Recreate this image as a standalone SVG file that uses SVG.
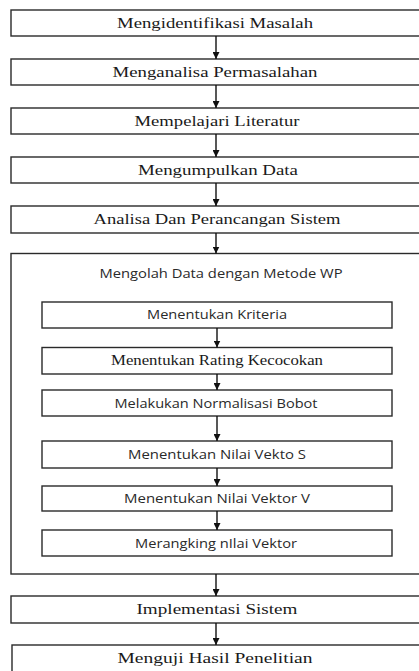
<svg xmlns="http://www.w3.org/2000/svg" width="419" height="671" viewBox="0 0 419 671">
<style>
.box{fill:#fff;stroke:#2a2a2a;stroke-width:1.4}
.serif{font-family:'Liberation Serif','Times New Roman',serif;font-size:14px;fill:#1a1a1a;text-anchor:middle}
.sans{font-family:'Open Sans','Liberation Sans',sans-serif;font-size:12.5px;fill:#2a2a2a;text-anchor:middle}
.arr{stroke:#111;stroke-width:1.4;fill:none;marker-end:url(#ah)}
</style>
<defs>
<marker id="ah" markerWidth="8" markerHeight="7" refX="7" refY="3.5" orient="auto" markerUnits="userSpaceOnUse">
<path d="M0,0 L7,3.5 L0,7 z" fill="#111"/>
</marker>
</defs>
<rect width="419" height="671" fill="#fff"/>
<g id="n1"><rect class="box" x="11" y="10" width="420" height="26"/><text class="serif" x="215" y="27.5" textLength="196" lengthAdjust="spacingAndGlyphs">Mengidentifikasi Masalah</text></g>
<g id="n2"><rect class="box" x="11" y="59" width="420" height="26"/><text class="serif" x="215" y="76.5" textLength="205" lengthAdjust="spacingAndGlyphs">Menganalisa Permasalahan</text></g>
<g id="n3"><rect class="box" x="11" y="108" width="420" height="26"/><text class="serif" x="217" y="125.5" textLength="165" lengthAdjust="spacingAndGlyphs">Mempelajari Literatur</text></g>
<g id="n4"><rect class="box" x="11" y="157" width="420" height="26"/><text class="serif" x="218" y="174.5" textLength="160" lengthAdjust="spacingAndGlyphs">Mengumpulkan Data</text></g>
<g id="n5"><rect class="box" x="11" y="206" width="420" height="27"/><text class="serif" x="217" y="224" textLength="247" lengthAdjust="spacingAndGlyphs">Analisa Dan Perancangan Sistem</text></g>
<g id="wp"><rect class="box" x="11" y="253.5" width="420" height="320.5"/><text class="sans" x="221" y="277.5" textLength="243" lengthAdjust="spacingAndGlyphs">Mengolah Data dengan Metode WP</text></g>
<g id="s1"><rect class="box" x="42" y="302" width="350" height="26"/><text class="sans" x="217" y="319" textLength="140" lengthAdjust="spacingAndGlyphs">Menentukan Kriteria</text></g>
<g id="s2"><rect class="box" x="42" y="347.5" width="350" height="26.5"/><text class="serif" x="217" y="365" textLength="212" lengthAdjust="spacingAndGlyphs">Menentukan Rating Kecocokan</text></g>
<g id="s3"><rect class="box" x="42" y="390" width="350" height="26"/><text class="sans" x="216" y="407.5" textLength="203" lengthAdjust="spacingAndGlyphs">Melakukan Normalisasi Bobot</text></g>
<g id="s4"><rect class="box" x="42" y="441" width="350" height="27"/><text class="sans" x="217" y="459" textLength="178" lengthAdjust="spacingAndGlyphs">Menentukan Nilai Vekto S</text></g>
<g id="s5"><rect class="box" x="42" y="486" width="350" height="25"/><text class="sans" x="217" y="503" textLength="186" lengthAdjust="spacingAndGlyphs">Menentukan Nilai Vektor V</text></g>
<g id="s6"><rect class="box" x="42" y="530" width="350" height="26"/><text class="sans" x="216" y="547.5" textLength="162" lengthAdjust="spacingAndGlyphs">Merangking nIlai Vektor</text></g>
<g id="n6"><rect class="box" x="11" y="596" width="420" height="27"/><text class="serif" x="217" y="614" textLength="161" lengthAdjust="spacingAndGlyphs">Implementasi Sistem</text></g>
<g id="n7"><rect class="box" x="12" y="645" width="420" height="40"/><text class="serif" x="215" y="663" textLength="195" lengthAdjust="spacingAndGlyphs">Menguji Hasil Penelitian</text></g>
<g id="connectors">
<line class="arr" x1="216" y1="36" x2="216" y2="59"/>
<line class="arr" x1="216" y1="85" x2="216" y2="108"/>
<line class="arr" x1="216" y1="134" x2="216" y2="157"/>
<line class="arr" x1="216" y1="183" x2="216" y2="206"/>
<line class="arr" x1="216" y1="233" x2="216" y2="253.5"/>
<line class="arr" x1="217" y1="328" x2="217" y2="347.5"/>
<line class="arr" x1="217" y1="374" x2="217" y2="390"/>
<line class="arr" x1="217" y1="416" x2="217" y2="441"/>
<line class="arr" x1="217" y1="468" x2="217" y2="486"/>
<line class="arr" x1="217" y1="511" x2="217" y2="530"/>
<line class="arr" x1="216" y1="574" x2="216" y2="596"/>
<line class="arr" x1="216" y1="623" x2="216" y2="645"/>
</g>
</svg>
